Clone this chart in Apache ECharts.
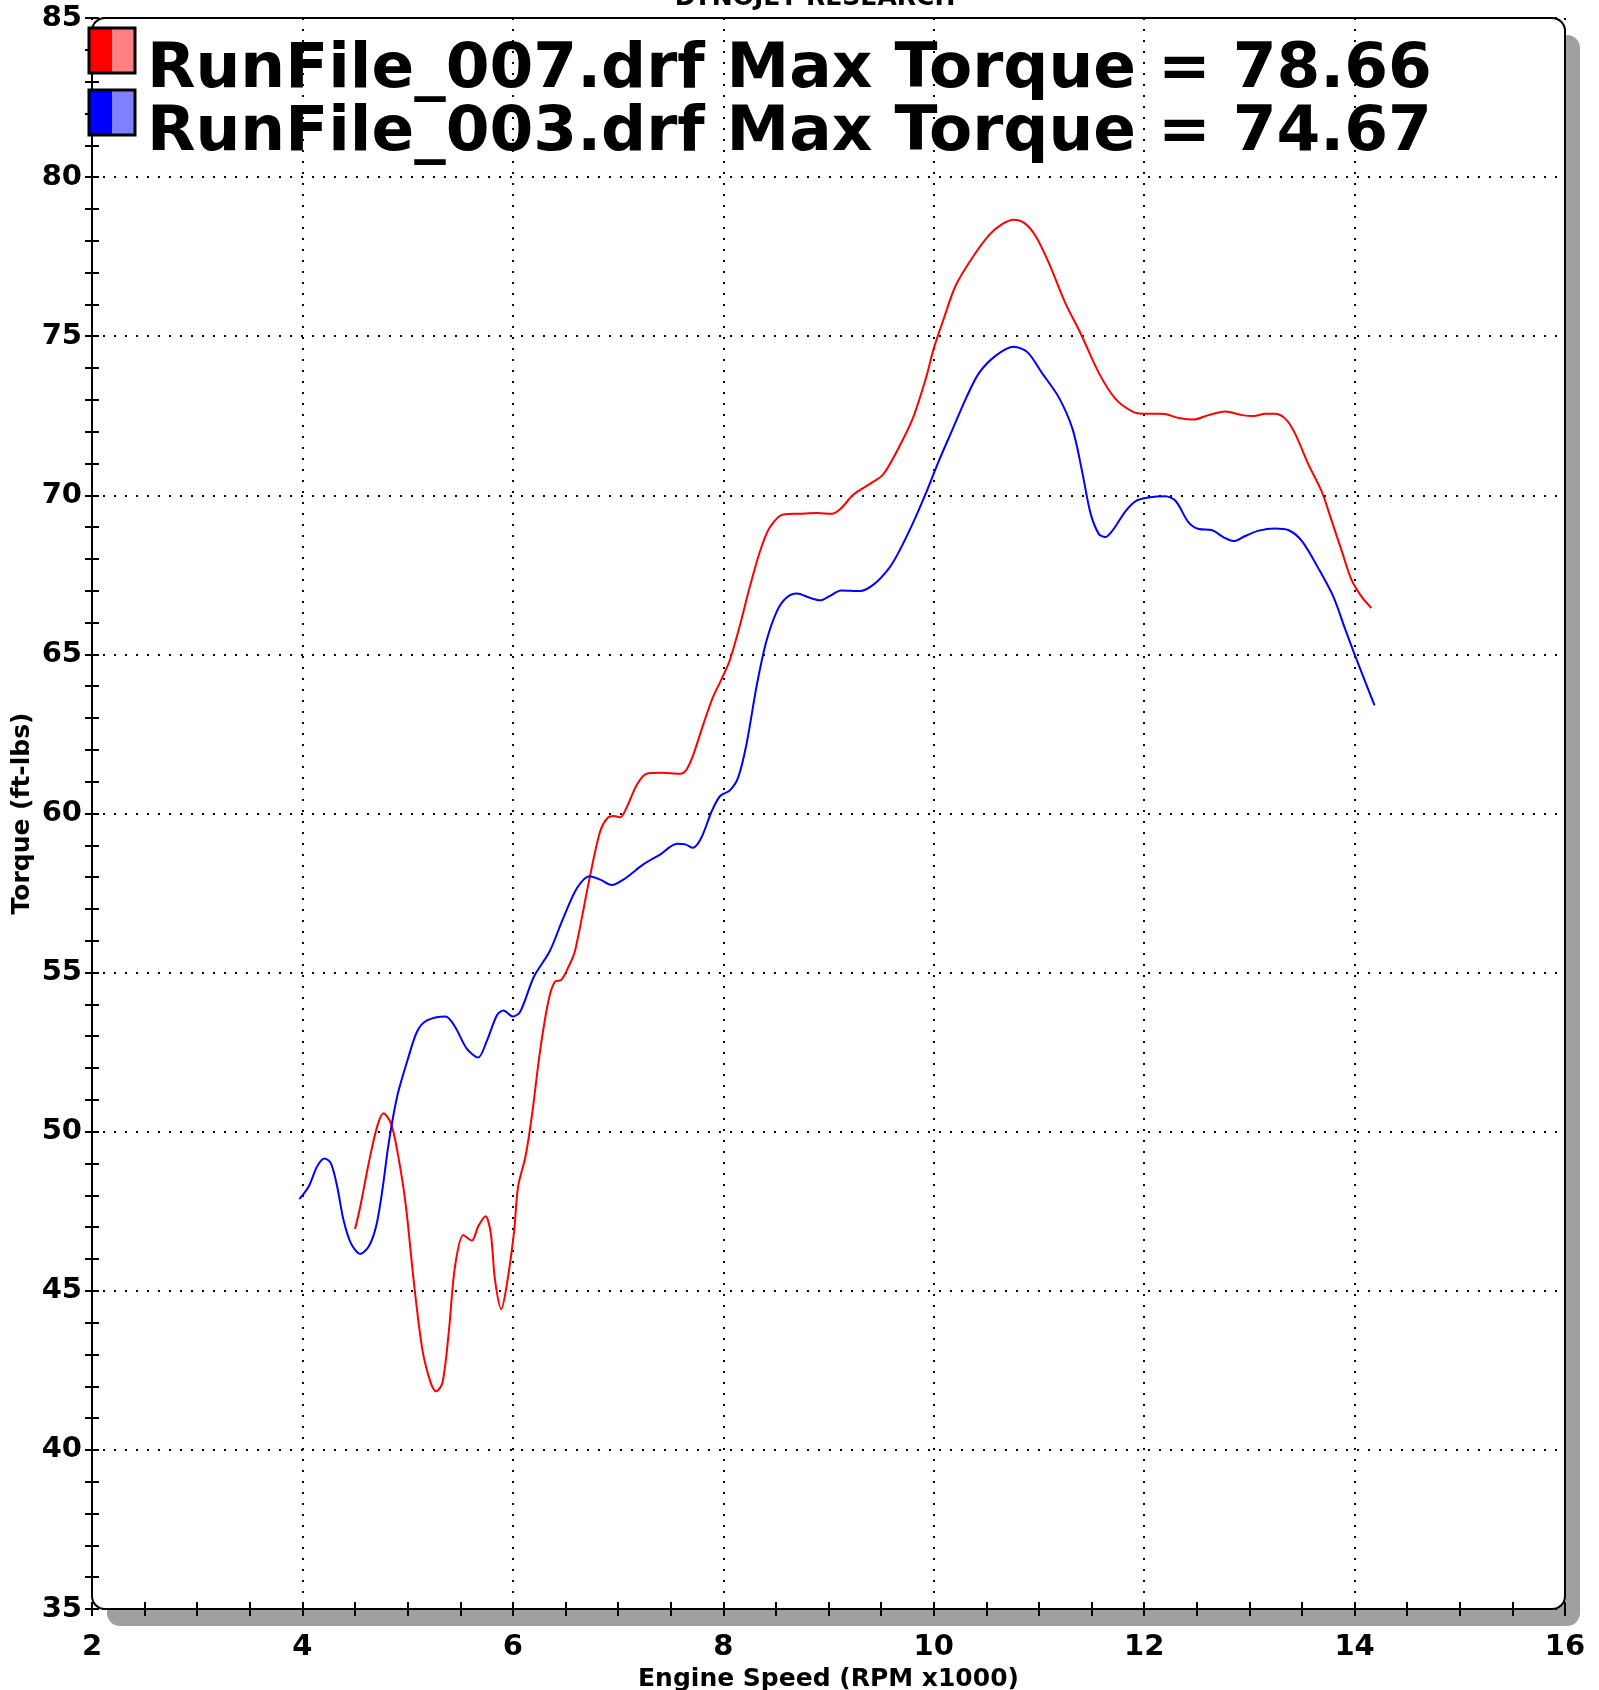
<!DOCTYPE html>
<html lang="en">
<head>
    <meta charset="UTF-8">
    <title>Dyno torque</title>
    <script src="https://cdn.jsdelivr.net/npm/echarts@6/dist/echarts.min.js"></script>
    <style>
        html, body { margin: 0; padding: 0; background: #fff; }
    </style>
</head>
<body>

<div id="main" style="width: 1599px;height:1690px;"></div>

<script type="text/javascript">
    // run names + peak torque shown in the legend
    var runNames = ['RunFile_007.drf', 'RunFile_003.drf'];
    var maxTorque = [78.66, 74.67];

    // RunFile_007 (red) - rpm x1000 / ft-lbs
    var rpm007 = [4.50, 4.55, 4.63, 4.71, 4.77, 4.84, 4.90, 4.98, 5.06, 5.14, 5.22, 5.27, 5.33, 5.39, 5.45,
        5.53, 5.61, 5.67, 5.74, 5.79, 5.83, 5.89, 5.94, 6.01, 6.05, 6.12, 6.18, 6.26, 6.34, 6.40, 6.46, 6.53,
        6.59, 6.73, 6.83, 6.90, 6.96, 7.02, 7.08, 7.18, 7.27, 7.40, 7.59, 7.65, 7.71, 7.81, 7.90, 7.98, 8.06,
        8.16, 8.25, 8.35, 8.44, 8.57, 8.73, 8.89, 9.03, 9.11, 9.24, 9.39, 9.52, 9.66, 9.80, 9.93, 10.00, 10.09,
        10.21, 10.37, 10.53, 10.65, 10.76, 10.86, 10.97, 11.10, 11.25, 11.40, 11.57, 11.73, 11.89, 12.00, 12.17,
        12.33, 12.47, 12.61, 12.77, 12.93, 13.04, 13.15, 13.24, 13.34, 13.43, 13.56, 13.69, 13.78, 13.88, 13.97,
        14.07, 14.16];
    var torque007 = [46.94, 47.65, 49.01, 50.16, 50.58, 50.27, 49.43, 47.75, 45.24, 43.15, 42.10, 41.84, 42.10, 43.67, 45.76,
        46.75, 46.58, 47.02, 47.34, 46.81, 45.35, 44.42, 45.14, 46.81, 48.28, 49.22, 50.48, 52.57, 54.14, 54.72, 54.77, 55.19,
        55.67, 57.98, 59.44, 59.86, 59.92, 59.88, 60.18, 60.91, 61.25, 61.28, 61.25, 61.38, 61.80, 62.80, 63.64, 64.20, 64.80,
        65.94, 67.10, 68.25, 68.98, 69.40, 69.42, 69.44, 69.42, 69.56, 70.03, 70.35, 70.66, 71.45, 72.41, 73.73, 74.61, 75.50,
        76.60, 77.48, 78.19, 78.52, 78.66, 78.56, 78.14, 77.26, 76.05, 75.06, 73.84, 73.02, 72.63, 72.56, 72.56,
        72.43, 72.38, 72.52, 72.63, 72.52, 72.49, 72.56, 72.56, 72.41, 71.97, 70.98, 70.10, 69.22, 68.23, 67.35,
        66.80, 66.46];

    // RunFile_003 (blue)
    var rpm003 = [3.97, 4.06, 4.14, 4.21, 4.27, 4.33, 4.39, 4.46, 4.55, 4.63, 4.70, 4.76, 4.82, 4.90, 5.00,
        5.09, 5.18, 5.36, 5.45, 5.56, 5.67, 5.75, 5.85, 5.91, 6.00, 6.07, 6.20, 6.35, 6.48, 6.61, 6.73, 6.83,
        6.94, 7.05, 7.24, 7.40, 7.56, 7.64, 7.71, 7.79, 7.89, 7.97, 8.06, 8.14, 8.22, 8.32, 8.41, 8.51, 8.60,
        8.70, 8.82, 8.92, 9.01, 9.12, 9.30, 9.43, 9.58, 9.67, 9.80, 9.93, 10.05, 10.18, 10.31, 10.43, 10.59,
        10.76, 10.89, 11.03, 11.19, 11.32, 11.41, 11.49, 11.57, 11.63, 11.71, 11.82, 11.92, 12.04, 12.20, 12.30,
        12.42, 12.52, 12.64, 12.76, 12.85, 12.96, 13.09, 13.24, 13.37, 13.50, 13.66, 13.80, 13.91, 14.00, 14.10,
        14.19];
    var torque003 = [47.88, 48.28, 48.91, 49.16, 49.01, 48.28, 47.23, 46.50, 46.16, 46.39, 47.02, 48.17, 49.64, 51.10, 52.26,
        53.15, 53.49, 53.62, 53.30, 52.62, 52.33, 52.83, 53.67, 53.81, 53.62, 53.77, 54.87, 55.67, 56.72, 57.66, 58.03, 57.92,
        57.75, 57.92, 58.40, 58.71, 59.05, 59.03, 58.92, 59.23, 60.07, 60.55, 60.72, 61.12, 62.17, 64.06, 65.42, 66.36, 66.78,
        66.91, 66.78, 66.70, 66.83, 67.01, 66.99, 67.20, 67.73, 68.23, 69.11, 70.10, 71.09, 72.08, 73.07, 73.84, 74.39,
        74.67, 74.50, 73.84, 73.07, 72.08, 70.76, 69.44, 68.78, 68.69, 68.94, 69.49, 69.82, 69.93, 69.97, 69.82,
        69.16, 68.94, 68.91, 68.67, 68.56, 68.72, 68.89, 68.96, 68.91, 68.56, 67.68, 66.80, 65.80, 65.00, 64.15,
        63.40];

    function pairs(xs, ys) {
        return xs.map(function (x, i) { return [x, ys[i]]; });
    }

    var FONT = 'DejaVu Sans';
    // plot area in px
    var G = { left: 92, top: 18, right: 34, bottom: 81 };
    var gw = 1599 - G.left - G.right;
    var gh = 1690 - G.top - G.bottom;

    var tickStyle = { color: '#000', width: 2 };
    var labelStyle = { color: '#000', fontFamily: FONT, fontWeight: 'bold', fontSize: 29 };
    var nameStyle = { color: '#000', fontFamily: FONT, fontWeight: 'bold', fontSize: 25 };
    var dotted = { color: '#000', width: 2, type: [2, 9] };

    // two overlaid axes each way so ticks cross the frame line
    function xAx(main) {
        return {
            type: 'value', min: 2, max: 16, interval: 2, position: 'bottom',
            axisLine: { show: false, onZero: false },
            axisTick: { show: true, inside: !main, length: 7, lineStyle: tickStyle },
            minorTick: { show: true, splitNumber: 4, length: 7, lineStyle: tickStyle },
            axisLabel: { show: main, margin: 24, textStyle: labelStyle },
            splitLine: { show: main, lineStyle: dotted },
            name: main ? 'Engine Speed (RPM x1000)' : '',
            nameLocation: 'middle', nameGap: 57,
            nameTextStyle: nameStyle
        };
    }
    function yAx(main) {
        return {
            type: 'value', min: 35, max: 85, interval: 5, position: 'left',
            axisLine: { show: false, onZero: false },
            axisTick: { show: true, inside: !main, length: 7, lineStyle: tickStyle },
            minorTick: { show: true, splitNumber: 5, length: 7, lineStyle: tickStyle },
            axisLabel: { show: main, margin: 10, textStyle: labelStyle },
            splitLine: { show: main, lineStyle: dotted },
            name: main ? 'Torque (ft-lbs)' : '',
            nameLocation: 'middle', nameGap: 57, nameMoveOverlap: false,
            nameTextStyle: nameStyle
        };
    }

    function swatch(y, c1, c2) {
        return [
            { type: 'rect', z: 60, shape: { x: 89, y: y, width: 23, height: 45 }, style: { fill: c1 } },
            { type: 'rect', z: 60, shape: { x: 112, y: y, width: 23, height: 45 }, style: { fill: c2 } },
            { type: 'rect', z: 61, shape: { x: 89, y: y, width: 46, height: 45 }, style: { fill: null, stroke: '#000', lineWidth: 3 } }
        ];
    }
    function legendText(y, i) {
        return {
            type: 'text', z: 60,
            style: {
                x: 147, y: y, text: runNames[i] + ' Max Torque = ' + maxTorque[i].toFixed(2),
                font: 'bold 63px "' + FONT + '"', fill: '#000', verticalAlign: 'middle'
            }
        };
    }

    var myChart = echarts.init(document.getElementById('main'));

    myChart.setOption({
        animation: false,
        backgroundColor: '#fff',
        grid: {
            left: G.left, right: G.right, top: G.top, bottom: G.bottom,
            containLabel: false, outerBoundsMode: 'none'
        },
        xAxis: [xAx(true), xAx(false)],
        yAxis: [yAx(true), yAx(false)],
        graphic: [
            // drop shadow + white panel + rounded frame
            { type: 'rect', z: -2, shape: { x: G.left + 15, y: G.top + 17, width: gw, height: gh, r: 13 }, style: { fill: '#a0a0a0' } },
            { type: 'rect', z: -1, shape: { x: G.left, y: G.top, width: gw, height: gh, r: 13 }, style: { fill: '#fff' } },
            { type: 'rect', z: 50, shape: { x: G.left, y: G.top, width: gw, height: gh, r: 13 }, style: { fill: null, stroke: '#000', lineWidth: 2 } },
            {
                type: 'text', z: 50,
                style: { x: 815, y: -2, text: 'DYNOJET RESEARCH', font: 'bold 25px "' + FONT + '"', fill: '#000', align: 'center', verticalAlign: 'middle' }
            },
            legendText(71, 0),
            legendText(134, 1)
        ].concat(swatch(28, '#ff0000', '#ff8080'), swatch(90, '#0000ff', '#8080ff')),
        series: [{
            name: runNames[0],
            type: 'line',
            showSymbol: false,
            smooth: 0.3,
            lineStyle: { color: '#ff0000', width: 2 },
            data: pairs(rpm007, torque007)
        }, {
            name: runNames[1],
            type: 'line',
            showSymbol: false,
            smooth: 0.3,
            lineStyle: { color: '#0000ff', width: 2 },
            data: pairs(rpm003, torque003)
        }]
    });
</script>

</body>
</html>
